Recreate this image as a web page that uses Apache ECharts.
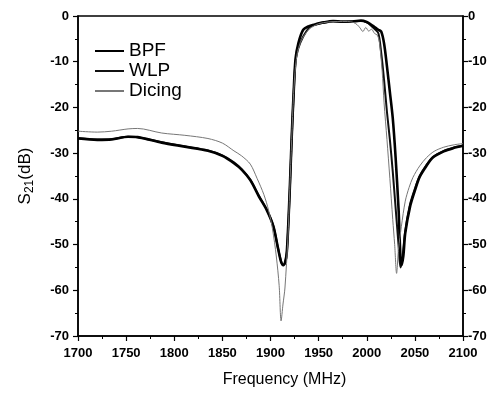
<!DOCTYPE html>
<html>
<head>
<meta charset="utf-8">
<script src="https://cdn.jsdelivr.net/npm/echarts@6/dist/echarts.min.js"></script>
<style>html,body{margin:0;padding:0;background:#fff}#c{width:493px;height:393px}</style>
</head>
<body>
<div id="c"></div>
<script>
// ---- data ----
const freqBPF = [1700,1720,1735,1752,1762,1787,1811,1835,1850,1862,1870,1879,1888,1896,1903,1908,1911,1913,1915,1917,1920,1922,1924,1926,1929,1934,1940,1945,1955,1965,1975,1985,1994,2000,2004,2008,2012,2015,2018,2021,2024,2027,2030,2033,2036,2038,2040,2045,2050,2055,2062,2069,2080,2090,2100];
const valBPF  = [-26.8,-27.1,-27.0,-26.4,-26.5,-27.7,-28.6,-29.5,-30.6,-32.2,-33.6,-35.9,-39.5,-42.4,-46,-51,-53.8,-54.4,-54,-51.5,-38,-26.6,-17,-9.4,-5.9,-3.0,-2.2,-1.9,-1.4,-1.1,-1.2,-1.2,-1.0,-1.3,-1.8,-2.4,-3.0,-3.4,-6,-11,-16.6,-22.3,-31,-42,-54.5,-52.5,-47.5,-41.7,-38.2,-35.2,-32.8,-30.9,-29.6,-28.9,-28.4];

const freqWLP = [1700,1720,1735,1752,1762,1787,1811,1835,1850,1862,1870,1879,1888,1896,1903,1908,1911,1913,1915,1917,1920,1922,1924,1926,1929,1934,1940,1945,1955,1965,1975,1985,1994,2000,2004,2008,2012,2015,2018,2021,2024,2027,2030,2033,2035,2037,2040,2045,2050,2055,2062,2069,2080,2090,2100];
const valWLP  = [-26.7,-27.0,-26.9,-26.4,-26.5,-27.6,-28.5,-29.4,-30.5,-32.0,-33.5,-35.8,-39.3,-42.3,-46,-51,-53.6,-54.6,-54.2,-51.8,-38.5,-27,-17.5,-10,-7,-4.5,-2.6,-2.0,-1.5,-1.2,-1.3,-1.2,-1.1,-1.4,-2.0,-2.8,-3.7,-8,-14,-21,-27,-34,-42,-50,-55,-53,-47,-41.2,-37.8,-35,-32.6,-30.8,-29.5,-28.8,-28.3];

const freqDicing = [1700,1720,1735,1752,1762,1787,1811,1835,1850,1862,1870,1879,1886,1893,1898,1902,1906,1909,1911,1913,1915,1918,1920,1922,1924,1926,1928,1931,1934,1940,1945,1950,1960,1970,1980,1986,1990,1993,1996,1999,2002,2005,2008,2011,2013,2016,2018,2021,2024,2027,2029,2031,2033,2036,2040,2044,2048,2055,2062,2070,2080,2090,2100];
const valDicing  = [-25.2,-25.4,-25.2,-24.7,-24.6,-25.6,-26.1,-26.8,-27.8,-29.5,-30.6,-32.4,-35.5,-39,-42.5,-46.5,-52.5,-59,-66.7,-63,-59.5,-48.8,-38,-27,-17,-11,-8,-5.8,-4.6,-2.9,-2.2,-1.7,-1.3,-1.2,-1.2,-1.4,-1.9,-2.6,-3.4,-2.5,-3.3,-2.9,-3.8,-4.2,-5.5,-12,-19,-27,-35.5,-44.5,-50,-56.3,-51,-46,-40.5,-37.5,-35.3,-32.8,-31,-29.6,-28.7,-28.2,-27.9];

const seriesNames = ['BPF','WLP','Dicing'];
const xMin = 1700, xMax = 2100, xStep = 50;
const yMin = -70, yMax = 0, yStep = 10;

// ---- font choice for condensed bold tick labels ----
function hasFont(name){
  const ctx = document.createElement('canvas').getContext('2d');
  const t = '1700-50 2100';
  ctx.font = 'bold 40px monospace';
  const a = ctx.measureText(t).width;
  ctx.font = "bold 40px '" + name + "', monospace";
  const b = ctx.measureText(t).width;
  return Math.abs(a - b) > 0.5;
}
let tickFont = "'Liberation Sans', Arial, sans-serif", tickSize = 13;
if (hasFont('Liberation Sans Narrow')) { tickFont = "'Liberation Sans Narrow'"; tickSize = 15; }

const pairs = (f, v) => f.map((x, i) => [x, v[i]]);

const chart = echarts.init(document.getElementById('c'), null, {renderer: 'canvas'});
const axisCommonY = {
  type: 'value', min: yMin, max: yMax, interval: yStep,
  axisLine: {show: true, lineStyle: {color: '#000', width: 1.5}},
  axisTick: {show: true, inside: false, length: 5, lineStyle: {color: '#000', width: 1.2}},
  minorTick: {show: true, splitNumber: 2, length: 3, lineStyle: {color: '#000', width: 1}},
  splitLine: {show: false},
  axisLabel: {color: '#000', fontWeight: 'bold', fontFamily: tickFont, fontSize: tickSize}
};
chart.setOption({
  animation: false,
  backgroundColor: '#fff',
  grid: {left: 78, right: 30, top: 16, bottom: 51, show: true, borderColor: '#000', borderWidth: 1.5},
  legend: {
    orient: 'vertical', left: 89, top: 36, itemWidth: 29, itemHeight: 10, itemGap: 0,
    data: seriesNames,
    itemStyle: {opacity: 0},
    textStyle: {fontFamily: "'Liberation Sans', Arial, sans-serif", fontSize: 19, color: '#000', lineHeight: 20}
  },
  xAxis: {
    type: 'value', min: xMin, max: xMax, interval: xStep,
    name: 'Frequency (MHz)', nameLocation: 'middle', nameGap: 36,
    nameTextStyle: {fontFamily: "'Liberation Sans', Arial, sans-serif", fontSize: 16, color: '#000', padding: [0, 0, 0, 28]},
    axisLine: {show: true, onZero: false, lineStyle: {color: '#000', width: 1.5}},
    axisTick: {show: true, inside: false, length: 5, lineStyle: {color: '#000', width: 1.2}},
    minorTick: {show: true, splitNumber: 2, length: 3, lineStyle: {color: '#000', width: 1}},
    splitLine: {show: false},
    axisLabel: {color: '#000', fontWeight: 'bold', fontFamily: tickFont, fontSize: tickSize, margin: 11,
      formatter: v => String(v)}
  },
  yAxis: [
    Object.assign({}, axisCommonY, {
      position: 'left',
      name: '{s|S}{sub|21}{s|(dB)}', nameLocation: 'middle', nameGap: 42, nameRotate: 90,
      nameTextStyle: {color: '#000', fontFamily: "'Liberation Sans', Arial, sans-serif",
        rich: {s: {fontSize: 17, lineHeight: 22, verticalAlign: 'middle', color: '#000'},
               sub: {fontSize: 12, lineHeight: 22, verticalAlign: 'bottom', color: '#000'}}},
      axisLabel: Object.assign({}, axisCommonY.axisLabel, {margin: 9})
    }),
    Object.assign({}, axisCommonY, {
      position: 'right',
      axisLabel: Object.assign({}, axisCommonY.axisLabel, {margin: 5})
    })
  ],
  series: [
    {name: 'BPF', type: 'line', symbol: 'none', smooth: 0.3, data: pairs(freqBPF, valBPF),
     lineStyle: {color: '#000', width: 2.6}, itemStyle: {color: '#000'}, z: 3},
    {name: 'WLP', type: 'line', symbol: 'none', smooth: 0.3, data: pairs(freqWLP, valWLP),
     lineStyle: {color: '#111', width: 2}, itemStyle: {color: '#111'}, z: 2},
    {name: 'Dicing', type: 'line', symbol: 'none', smooth: 0.3, data: pairs(freqDicing, valDicing),
     lineStyle: {color: '#777', width: 1}, itemStyle: {color: '#777'}, z: 4}
  ]
});
</script>
</body>
</html>
